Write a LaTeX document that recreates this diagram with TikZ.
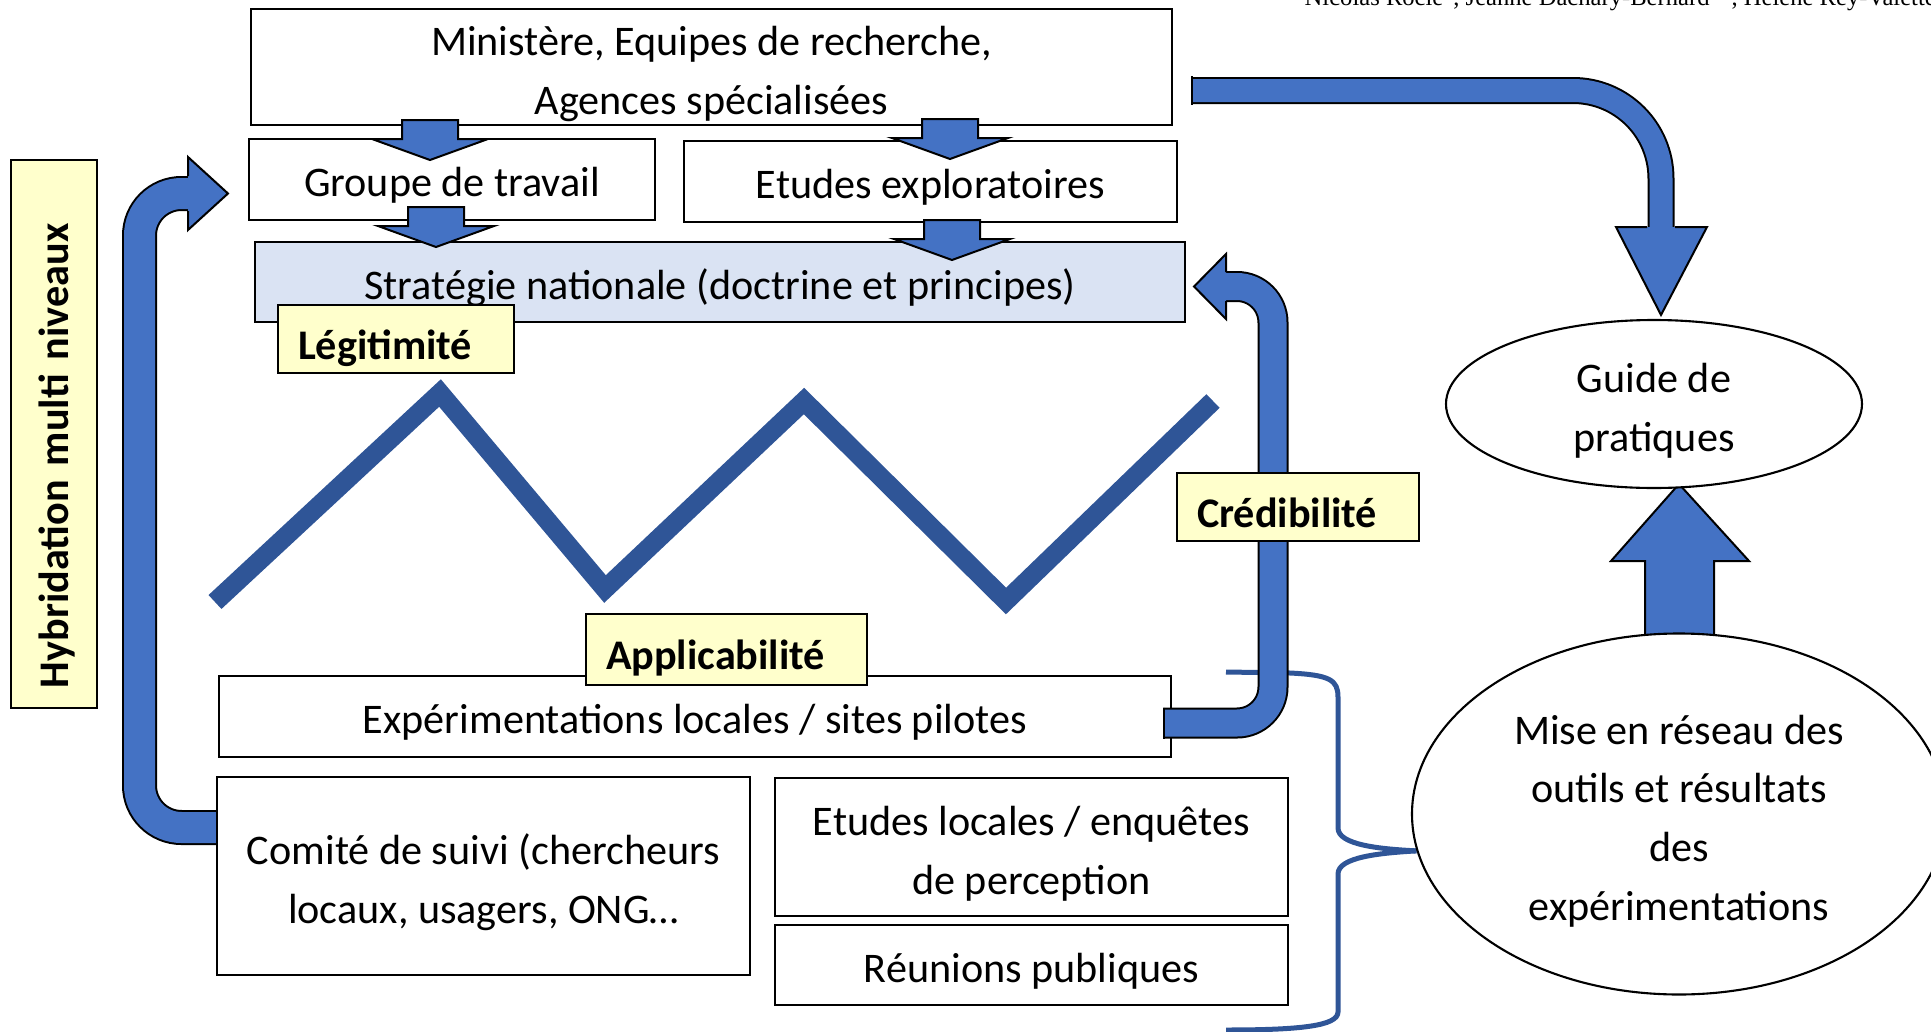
\documentclass[tikz,border=0pt]{standalone}
\usepackage{fontspec}
\setmainfont{Carlito}
\newfontfamily\headfont{Liberation Serif}
\usetikzlibrary{calc,backgrounds,shapes.geometric}

\definecolor{arrowblue}{HTML}{4472C4}
\definecolor{zigblue}{HTML}{2F5597}
\definecolor{stratfill}{HTML}{DAE3F3}
\definecolor{notefill}{HTML}{FFFFCC}

\newcommand\diagfont{\fontsize{12}{16.7}\selectfont}
% struts for the first and last line of the multi-line frames
\newcommand\hstrut{\rule{0pt}{13.3pt}}
\newcommand\dstrut{\rule[-3pt]{0pt}{3pt}}

\tikzset{
  % struts so the text sits a little low in its frame
  lowtext/.style={execute at begin node={\rule{0pt}{12.8pt}},
    execute at end node={\rule[-3pt]{0pt}{3pt}}},
  box/.style={draw, line width=0.7pt, fill=white, align=center, inner sep=0pt, lowtext},
  note/.style={draw, line width=0.5pt, fill=notefill, font=\diagfont\bfseries,
    align=left, inner xsep=2mm, inner ysep=0pt, text height=11.6pt, text depth=0pt},
  bubble/.style={draw, ellipse, line width=0.6pt, fill=white, align=center, inner sep=0pt},
  shaft/.style={line width=0.2mm, double=arrowblue, double distance=#1},
  blockhead/.style={fill=arrowblue, draw=black, line width=0.2mm, line join=miter},
  pics/downblock/.style={code={
    \filldraw[blockhead] (-28,0) -- (28,0) -- (28,19) -- (58,19) -- (0,40)
      -- (-58,19) -- (-28,19) -- cycle;}},
}

\begin{document}
\begin{tikzpicture}[x=0.1mm, y=-0.1mm, font=\diagfont]
  \useasboundingbox (0,0) rectangle (1931,1032);

  % running head, cut by the page edge
  \begin{scope}
    \clip (0,0) rectangle (1931,1032);
    \node[anchor=base west, inner sep=0pt, font=\headfont\fontsize{7}{8}\selectfont] (authors)
      at (1304,5) {Nicolas Rocle\hspace{1mm}, Jeanne Dachary-Bernard\hspace{2.2mm}, Hélène Rey-Valette};
  \end{scope}

  \node[box, minimum width=92.1mm, minimum height=11.4mm] (minis) at (711.5,67)
    {\hstrut Ministère, Equipes de recherche,\\Agences spécialisées\dstrut};
  \node[box, minimum width=40.6mm, minimum height=8.1mm] (groupe) at (452,179.5) {Groupe de travail};
  \node[box, minimum width=49.3mm, minimum height=8.1mm] (explo) at (930.5,181.5) {Etudes exploratoires};
  \node[box, fill=stratfill, minimum width=93mm, minimum height=8mm] (strat) at (720,282)
    {Stratégie nationale (doctrine et principes)};

  \node[box, minimum width=95.2mm, minimum height=8.1mm] (exper) at (695,716.5)
    {Expérimentations locales / sites pilotes};
  \node[box, minimum width=53.3mm, minimum height=19.8mm] (comite) at (483.5,876)
    {\hstrut Comité de suivi (chercheurs\\locaux, usagers, ONG…\dstrut};
  \node[box, minimum width=51.3mm, minimum height=13.8mm] (enquetes) at (1031.5,847)
    {\hstrut Etudes locales / enquêtes\\de perception\dstrut};
  \node[box, minimum width=51.3mm, minimum height=8mm] (reunions) at (1031.5,965) {Réunions publiques};

  \node[bubble, minimum width=41.6mm, minimum height=16.8mm] (guide) at (1654,404)
    {\hstrut Guide de\\pratiques\dstrut};
  \node[bubble, minimum width=53.4mm, minimum height=36.1mm] (reseau) at (1679,814)
    {\hstrut Mise en réseau des\\outils et résultats\\des\\expérimentations\dstrut};

  \begin{scope}[on background layer]
    % brace gathering the local actions
    \draw[zigblue, line width=0.5mm] (1226,672) -- (1290,673)
      .. controls (1330,675) and (1338,680) .. (1338,697) -- (1338,828)
      .. controls (1338,845) and (1380,849) .. (reseau.188);
    \draw[zigblue, line width=0.5mm] (reseau.188)
      .. controls (1380,853) and (1338,857) .. (1338,874) -- (1338,1012)
      .. controls (1338,1026) and (1300,1030) .. (1226,1030);
    % up arrow to the guide
    \filldraw[blockhead] (1645,650) -- (1645,561) -- (1611,561) -- (1679,484)
      -- (1749,561) -- (1714,561) -- (1714,650) -- cycle;
    % feedback loop on the left
    \draw[shaft=3.1mm, rounded corners=4.2mm] (comite.west |- 0,827.5) -- (139.5,827.5)
      -- (139.5,193.5) -- (190,193.5);
    \filldraw[blockhead] (188,176) -- (188,157) -- (228,193.5) -- (188,230) -- (188,211);
  \end{scope}

  \draw[zigblue, line width=1.9mm, line join=miter] (215,602) -- (440,393) -- (605,589)
    -- (804,401) -- (1006,601) -- (1213,401);

  % arrow back up to the national strategy
  \draw[shaft=2.7mm, rounded corners=3.6mm] (1163,723) -- (1273,723) -- (1273,286.5) -- (1224,286.5);
  \draw[line width=0.2mm] (1164,707.5) -- (1164,738.5);
  \filldraw[blockhead] (1226,272) -- (1226,254) -- (1194,286.5) -- (1226,319) -- (1226,301);

  % arrow to the guide
  \draw[shaft=2.3mm, rounded corners=8.8mm] (1192,90.5) -- (1661,90.5) -- (1661,229);
  \draw[line width=0.2mm] (1192,76) -- (1192,105);
  \filldraw[blockhead] (1647,227) -- (1616,227) -- (1661,315) -- (1707,227) -- (1675,227);

  \pic at (430,120) {downblock};
  \pic at (950,119) {downblock};
  \pic at (436,207) {downblock};
  \pic at (952,220) {downblock};

  \node[note, text width=19.6mm, minimum height=6.8mm] (legit) at (396,339) {Légitimité};
  \node[note, text width=24.1mm, minimum height=7.1mm] (appli) at (726.5,649.5) {Applicabilité};
  \node[note, text width=20.2mm, minimum height=6.8mm] (credib) at (1298,507) {Crédibilité};
  \node[note, rotate=90, text width=50.8mm, minimum height=8.6mm, text height=8.5pt] (hybrid)
    at (54,434) {Hybridation multi niveaux};
\end{tikzpicture}
\end{document}
